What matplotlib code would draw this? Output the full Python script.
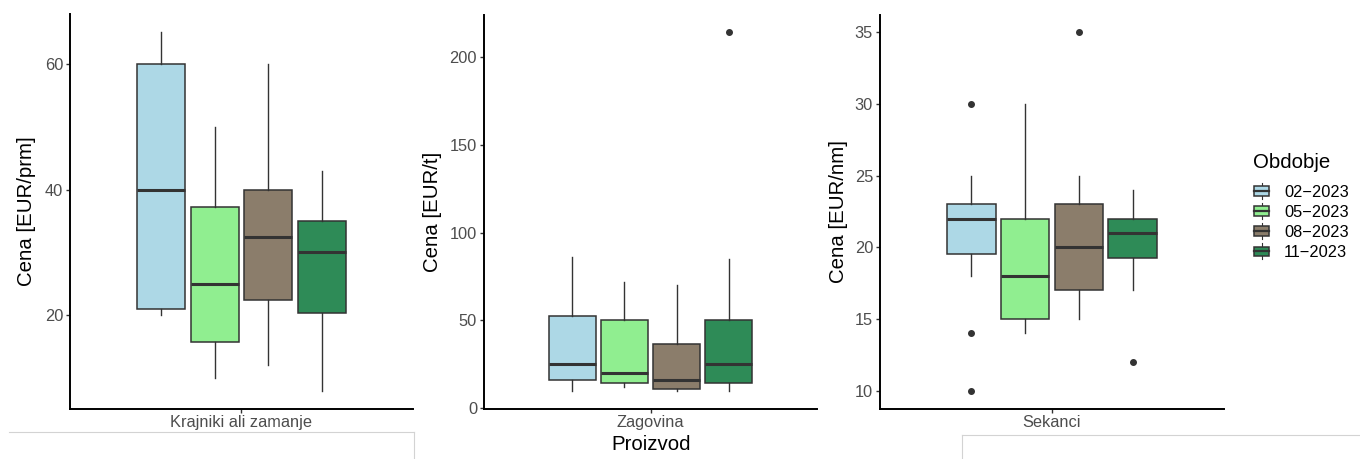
import numpy as np
import matplotlib.pyplot as plt
from matplotlib.lines import Line2D
from matplotlib.patches import Rectangle, Patch
from matplotlib.legend_handler import HandlerBase
from matplotlib.ticker import MultipleLocator

plt.rcParams['font.family'] = ['Liberation Sans', 'DejaVu Sans']

# --- podatki ---
periods = ["02\u22122023", "05\u22122023", "08\u22122023", "11\u22122023"]
colors = ["#ADD8E6", "#90EE90", "#8B7D6B", "#2E8B57"]

products = ["Krajniki ali zamanje", "Zagovina", "Sekanci"]
ylabels = ["Cena [EUR/prm]", "Cena [EUR/t]", "Cena [EUR/nm]"]

krajniki_low = [20, 10, 12, 8]
krajniki_q1 = [21, 15.7, 22.4, 20.4]
krajniki_med = [40, 25, 32.5, 30]
krajniki_q3 = [60, 37.2, 40, 35]
krajniki_high = [65, 50, 60, 43]
krajniki_out = [[], [], [], []]

zagovina_low = [10, 12, 10, 10]
zagovina_q1 = [16.3, 14.6, 11, 14.6]
zagovina_med = [25, 20, 16.2, 25]
zagovina_q3 = [52.5, 50, 36.7, 50]
zagovina_high = [86, 72, 70, 85]
zagovina_out = [[], [], [], [214]]

sekanci_low = [18, 14, 15, 17]
sekanci_q1 = [19.5, 15, 17, 19.25]
sekanci_med = [22, 18, 20, 21]
sekanci_q3 = [23, 22, 23, 22]
sekanci_high = [25, 30, 25, 24]
sekanci_out = [[30, 14, 10], [], [35], [12]]

tick_steps = [20, 50, 5]

W, H = 1360, 459
EDGE = "#333333"


class BoxKeyHandler(HandlerBase):
    # legendni kljuc v stilu ggplot boxplota
    def create_artists(self, legend, orig_handle, xdescent, ydescent,
                       width, height, fontsize, trans):
        x0, y0 = -xdescent, -ydescent
        xm = x0 + width / 2
        box = Rectangle((x0 + 0.05 * width, y0 + 0.2 * height), 0.9 * width, 0.6 * height,
                        facecolor=orig_handle.get_facecolor(), edgecolor=EDGE, lw=1.1,
                        transform=trans)
        med = Line2D([x0 + 0.05 * width, x0 + 0.95 * width], [y0 + 0.5 * height] * 2,
                     color=EDGE, lw=1.6, transform=trans)
        w1 = Line2D([xm, xm], [y0, y0 + 0.2 * height], color=EDGE, lw=0.8,
                    transform=trans)
        w2 = Line2D([xm, xm], [y0 + 0.8 * height, y0 + height], color=EDGE, lw=0.8,
                    transform=trans)
        return [w1, w2, box, med]


def draw_panel(ax, low, q1, med, q3, high, out, ylabel, product, step):
    n = len(low)
    dodge = 0.75
    positions = 1 + (np.arange(n) - (n - 1) / 2) * dodge / n
    stats = []
    for i in range(n):
        stats.append(dict(whislo=low[i], q1=q1[i], med=med[i], q3=q3[i],
                          whishi=high[i], fliers=out[i]))
    bp = ax.bxp(stats, positions=positions, widths=dodge / n * 0.9, patch_artist=True,
                showcaps=False,
                boxprops=dict(edgecolor=EDGE, linewidth=1.1),
                medianprops=dict(color=EDGE, linewidth=2.2, solid_capstyle='butt'),
                whiskerprops=dict(color=EDGE, linewidth=1.0),
                flierprops=dict(marker='o', markerfacecolor=EDGE, markeredgecolor=EDGE,
                                markersize=4, linestyle='none'))
    for patch, c in zip(bp['boxes'], colors):
        patch.set_facecolor(c)

    # razsiritev osi kot v ggplot (5 %)
    vals = np.concatenate([low, high] + [np.array(o, dtype=float) for o in out])
    lo, hi = vals.min(), vals.max()
    pad = 0.05 * (hi - lo)
    ax.set_ylim(lo - pad, hi + pad)
    ax.set_xlim(0.4, 1.6)
    ax.yaxis.set_major_locator(MultipleLocator(step))
    ax.set_xticks([1])
    ax.set_xticklabels([product])

    for s in ['top', 'right']:
        ax.spines[s].set_visible(False)
    for s in ['left', 'bottom']:
        ax.spines[s].set_linewidth(1.4)
        ax.spines[s].set_color('black')
    ax.tick_params(axis='both', length=3, width=1.0, color=EDGE, labelsize=11.8,
                   labelcolor='#4D4D4D', pad=2)


fig = plt.figure(figsize=(W / 100, H / 100), dpi=100)

# pozicije panelov v pikslih: levo, desno
panel_px = [(70, 413), (484, 817), (880, 1224)]
top_px, bottom_px = 14.5, 408.5
ylabel_x = [26, 432, 838]

data = [
    (krajniki_low, krajniki_q1, krajniki_med, krajniki_q3, krajniki_high, krajniki_out),
    (zagovina_low, zagovina_q1, zagovina_med, zagovina_q3, zagovina_high, zagovina_out),
    (sekanci_low, sekanci_q1, sekanci_med, sekanci_q3, sekanci_high, sekanci_out),
]

axes = []
for k, (l, r) in enumerate(panel_px):
    ax = fig.add_axes([l / W, (H - bottom_px) / H, (r - l) / W, (bottom_px - top_px) / H])
    draw_panel(ax, *data[k], ylabels[k], products[k], tick_steps[k])
    fig.text(ylabel_x[k] / W, 1 - (top_px + bottom_px) / 2 / H, ylabels[k], rotation=90,
             ha='center', va='center', fontsize=14.7)
    axes.append(ax)

fig.text(651 / W, 1 - 445 / H, "Proizvod", ha='center', va='center', fontsize=14.7)

# legenda
handles = [Patch(facecolor=c, edgecolor=EDGE) for c in colors]
leg = fig.legend(handles, periods, title="Obdobje", loc='upper left',
                 bbox_to_anchor=(1253 / W, 1 - 153 / H), frameon=False,
                 handler_map={Patch: BoxKeyHandler()}, fontsize=11.8,
                 title_fontsize=14.7, handlelength=1.05, handleheight=1.1,
                 handletextpad=0.85, labelspacing=0.22, borderpad=0, borderaxespad=0,
                 alignment='left')
leg._legend_box.sep = 0.22 * 11.8 + 5.5

# sive crte robov (izrez slike)
grey = "#D3D3D3"
fig.add_artist(Line2D([9 / W, 414 / W], [1 - 432 / H] * 2, color=grey, lw=0.8))
fig.add_artist(Line2D([414 / W, 414 / W], [1 - 432 / H, 0], color=grey, lw=0.8))
fig.add_artist(Line2D([962 / W, 1], [1 - 435 / H] * 2, color=grey, lw=0.8))
fig.add_artist(Line2D([962 / W, 962 / W], [1 - 435 / H, 0], color=grey, lw=0.8))

fig.savefig("out.png", dpi=100)
